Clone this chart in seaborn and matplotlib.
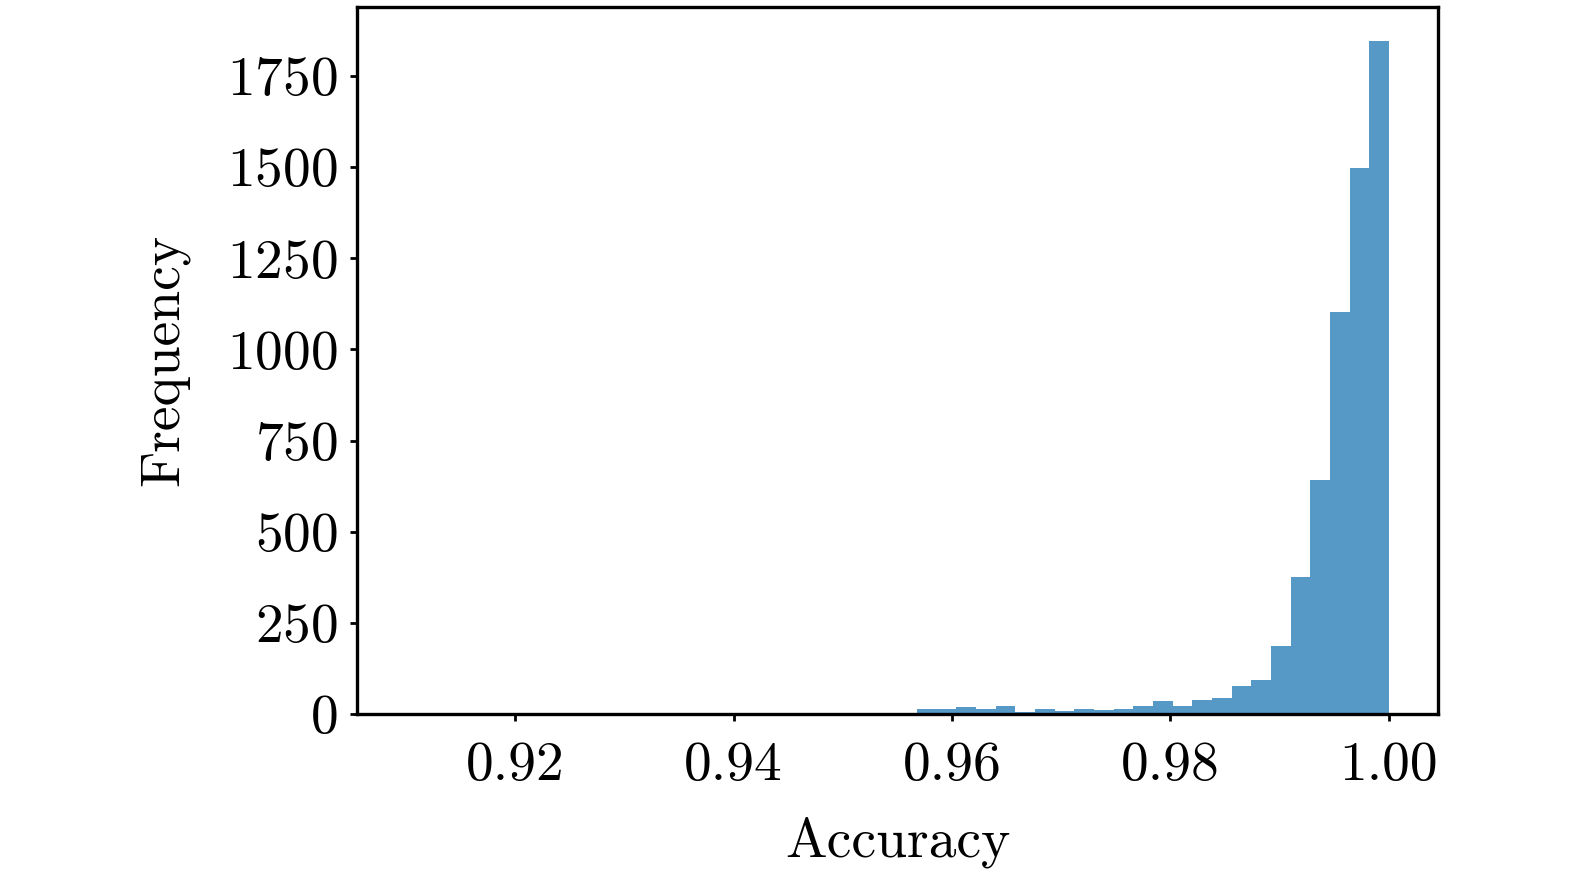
import numpy as np
import pandas as pd
import seaborn as sns
import matplotlib.pyplot as plt

# Histogram of accuracy values (50 bins between data min and max)
acc_min = 0.91
acc_max = 1.00
n_bins = 50
counts = [0, 0, 0, 0, 0, 0, 0, 3, 0, 0,
          0, 1, 0, 0, 0, 0, 1, 0, 0, 0,
          0, 0, 0, 3, 3, 0, 13, 13, 19, 13,
          22, 5, 14, 9, 14, 10, 14, 22, 36, 22,
          38, 44, 77, 93, 187, 377, 642, 1103, 1499, 1847]
x_ticks = [0.92, 0.94, 0.96, 0.98, 1.00]
y_ticks = [0, 250, 500, 750, 1000, 1250, 1500, 1750]

edges = np.linspace(acc_min, acc_max, n_bins + 1)
df = pd.DataFrame({'Accuracy': (edges[:-1] + edges[1:]) / 2, 'count': counts})

sns.set_theme(style="ticks")
plt.rcParams.update({
    'font.family': ['cmr10', 'DejaVu Serif'],
    'mathtext.fontset': 'cm',
    'axes.formatter.use_mathtext': True,
    'axes.edgecolor': 'black',
    'axes.labelcolor': 'black',
    'text.color': 'black',
    'axes.linewidth': 2.4,
    'xtick.color': 'black',
    'ytick.color': 'black',
    'xtick.major.width': 2.0,
    'ytick.major.width': 2.0,
    'xtick.major.size': 5,
    'ytick.major.size': 5,
})

fig = plt.figure(figsize=(15.75, 8.76), dpi=100)
ax = fig.add_axes([0.2267, 0.185, 0.9130 - 0.2267, 0.992 - 0.185])

sns.histplot(data=df, x='Accuracy', weights='count', bins=n_bins,
             binrange=(acc_min, acc_max),
             color='#1f77b4', alpha=0.75, linewidth=0, ax=ax)

ax.set_xticks(x_ticks)
ax.set_xticklabels(['%.2f' % t for t in x_ticks])
ax.set_yticks(y_ticks)
ax.tick_params(axis='both', labelsize=40)
ax.tick_params(axis='x', pad=15)
ax.tick_params(axis='y', pad=9)
ax.set_xlabel('Accuracy', fontsize=40, labelpad=18)
ax.set_ylabel('Frequency', fontsize=40, labelpad=27)
ax.set_xlim(acc_min - 0.05 * (acc_max - acc_min), acc_max + 0.05 * (acc_max - acc_min))
ax.set_ylim(0, max(counts) * 1.05)

fig.savefig('out.png', dpi=100)
